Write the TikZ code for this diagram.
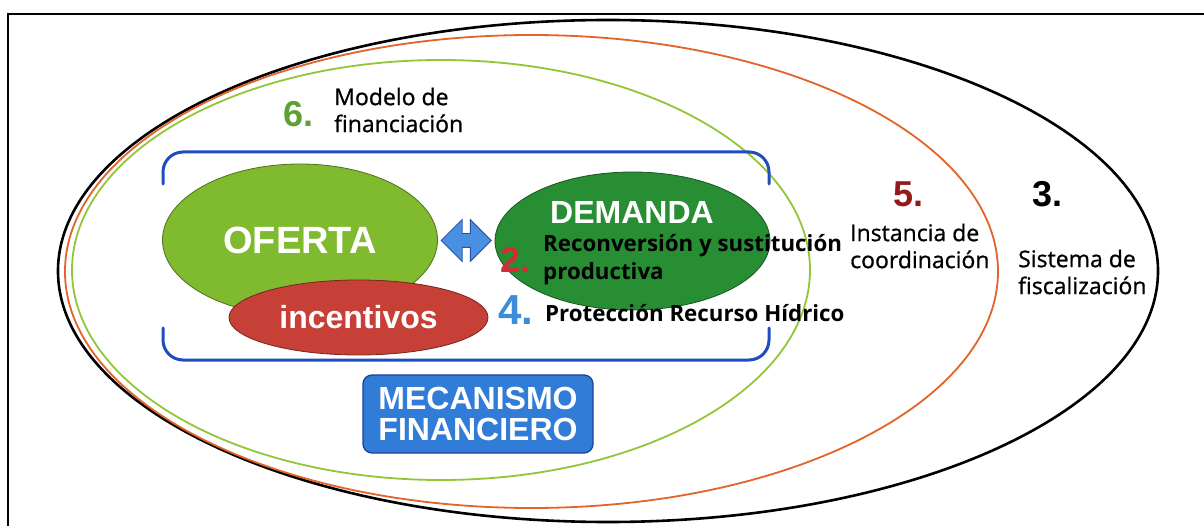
\documentclass[tikz,border=0pt]{standalone}
\usepackage{fontspec}
\newfontfamily\lab[FakeBold=0.8]{Open Sans}
\newfontfamily\labb{Open Sans}
\newfontfamily\arl{Liberation Sans}
\usetikzlibrary{shapes.geometric,shapes.arrows,calc}
\definecolor{ofecol}{RGB}{128,186,46}
\definecolor{demcol}{RGB}{40,142,52}
\definecolor{inccol}{RGB}{198,64,56}
\definecolor{brk}{RGB}{30,78,190}
\definecolor{ringorange}{RGB}{226,100,40}
\definecolor{ringgreen}{RGB}{145,198,55}
\definecolor{boxcol}{RGB}{48,124,214}
\definecolor{boxedge}{RGB}{26,66,150}
\definecolor{arrfill}{RGB}{74,144,226}
\definecolor{arredge}{RGB}{40,80,170}
\definecolor{csix}{RGB}{95,160,50}
\definecolor{cfive}{RGB}{150,25,25}
\definecolor{ctwo}{RGB}{210,45,55}
\definecolor{cfour}{RGB}{60,140,220}
\tikzset{
  frameline/.style={line width=2.6pt},
  ring/.style={line width=1.8pt},
  bracket/.style={draw=brk, line width=3pt, line cap=round, rounded corners=20pt},
  blob/.style={ellipse, draw=#1!60!black, line width=0.8pt, fill=#1, inner sep=0pt, text=white},
  bigw/.style={inner sep=0pt, text=white, font=\arl\bfseries\fontsize{32}{32}\selectfont},
  num/.style={inner sep=0pt, font=\arl\bfseries\fontsize{36}{36}\selectfont},
  lbl/.style={inner sep=0pt, align=left, font=\lab\fontsize{23}{27}\selectfont},
  lblb/.style={inner sep=0pt, align=left, font=\labb\bfseries\fontsize{22.3}{28}\selectfont},
  darrow/.style={double arrow, draw=arredge, fill=arrfill, line width=0.8pt, inner sep=6.5pt,
    minimum height=50pt, double arrow head extend=14pt, double arrow head indent=0pt},
  mecbox/.style={rectangle, rounded corners=9pt, draw=boxedge, line width=1.3pt, fill=boxcol,
    text=white, align=center, minimum width=230pt, minimum height=78pt, inner sep=0pt,
    font=\arl\bfseries\fontsize{32}{31}\selectfont}
}
\begin{document}
\begin{tikzpicture}[x=1pt,y=-1pt]
\useasboundingbox (0,0) rectangle (1204,526);
\fill[white] (0,0) rectangle (1204,526);
% frame
\draw[frameline] (8,526) -- (8,14) -- (1204,14);
% rings
\draw[ring, black, line width=2.6pt] (608,271) ellipse [x radius=550, y radius=251];
\draw[ring, ringorange] (531.5,271.5) ellipse [x radius=466.5, y radius=236.5];
\draw[ring, ringgreen] (441,270) ellipse [x radius=369, y radius=210];
% brackets
\draw[bracket] (163,184) -- (163,152) -- (769,152) -- (769,184);
\draw[bracket] (163,328) -- (163,360) -- (769,360) -- (769,328);
% ellipses
\node[blob=ofecol, minimum width=275pt, minimum height=152pt, font=\arl\bfseries\fontsize{38}{38}\selectfont] (ofe) at (300,240) {OFERTA};
\node[blob=demcol, minimum width=275pt, minimum height=138pt] (dem) at (632.5,241) {};
\node[bigw] (demtxt) at (632,212.5) {DEMANDA};
\node[blob=inccol, minimum width=259pt, minimum height=75pt, font=\arl\bfseries\fontsize{32}{32}\selectfont] (inc) at (358.5,317.5) {incentivos};
% double arrow between OFERTA and DEMANDA
\node[darrow] (arr) at ($(ofe.east)!0.5!(dem.west)$) {};
% numbers and labels
\node[num, text=csix, anchor=base west] (n6) at (283,127) {6.};
\node[lbl, anchor=west] (l6) at (334,110) {Modelo de\\financiación};
\node[num, text=ctwo, anchor=base west] (n2) at (500,273) {2.};
\node[lblb, anchor=west] (l2) at (543,260) {Reconversión y sustitución\\productiva};
\node[num, text=cfour, anchor=base west, font=\arl\bfseries\fontsize{42}{42}\selectfont] (n4) at (498,325) {4.};
\node[lblb, anchor=base west] (l4) at (545,322) {Protección Recurso Hídrico};
\node[num, text=cfive, anchor=base west] (n5) at (893,207) {5.};
\node[lbl, anchor=west] (l5) at (850,246) {Instancia de\\coordinación};
\node[num, text=black, anchor=base west] (n3) at (1032,207) {3.};
\node[lbl, anchor=west] (l3) at (1018,272) {Sistema de\\fiscalización};
% mechanism box
\node[mecbox] (mec) at (478,414) {MECANISMO\\FINANCIERO};
\end{tikzpicture}
\end{document}
